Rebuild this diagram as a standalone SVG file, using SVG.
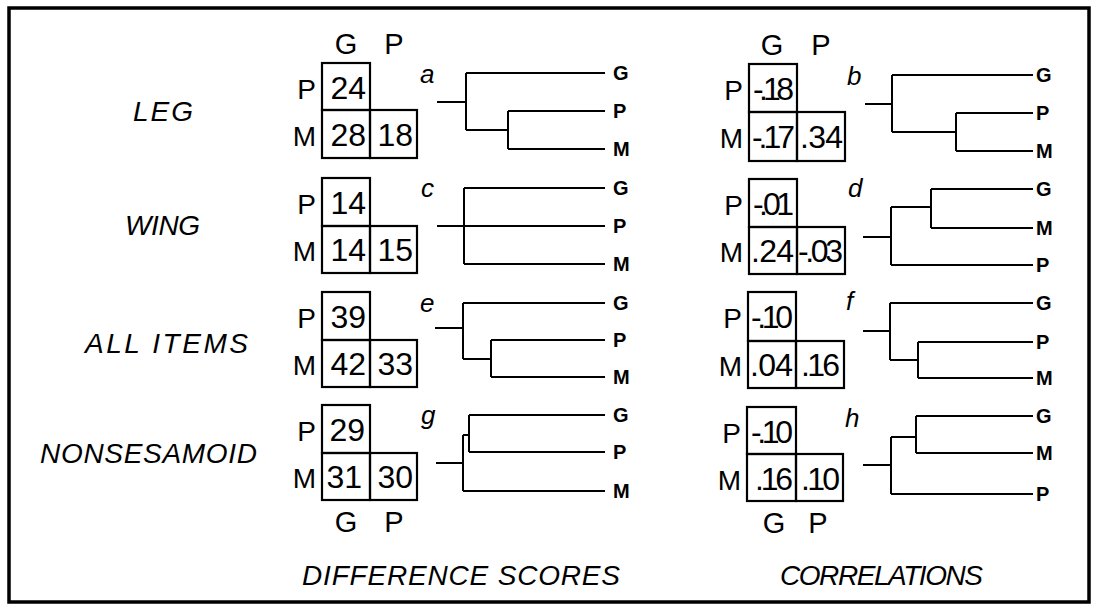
<svg xmlns="http://www.w3.org/2000/svg" width="1096" height="606" viewBox="0 0 1096 606">
<style>
.bg{fill:#fff}
.frame{fill:none;stroke:#000;stroke-width:3.5}
.cell{fill:none;stroke:#000;stroke-width:2.2}
.t{font-family:"Liberation Sans",Arial,sans-serif;fill:#000}
.hd{font-size:29px;text-anchor:middle}
.rl{font-size:28px;text-anchor:end}
.num{font-size:32px;text-anchor:end}
.grp{font-size:28px;font-style:italic;text-anchor:start}
.lt{font-size:26px;font-style:italic}
.leaf{font-size:20px;font-weight:bold}
.ln{fill:none;stroke:#000;stroke-width:2}
</style>
<rect class="bg" x="0" y="0" width="1096" height="606"/>
<rect class="frame" x="9" y="8" width="1080" height="594"/>

<g id="group-labels">
<text class="t grp" x="133" y="121" textLength="60">LEG</text>
<text class="t grp" x="125" y="235" textLength="75">WING</text>
<text class="t grp" x="85" y="353" textLength="163">ALL ITEMS</text>
<text class="t grp" x="40" y="463" textLength="217">NONSESAMOID</text>
<text class="t grp" x="302" y="585" textLength="318">DIFFERENCE SCORES</text>
<text class="t grp" x="780" y="585" textLength="203">CORRELATIONS</text>
</g>

<!-- Left matrices (difference scores) -->
<g id="mat-a">
<text class="t hd" x="346" y="54">G</text><text class="t hd" x="394" y="54">P</text>
<rect class="cell" x="322" y="63" width="48" height="47"/>
<rect class="cell" x="322" y="110" width="48" height="48"/>
<rect class="cell" x="370" y="110" width="47" height="48"/>
<text class="t rl" x="316" y="99">P</text><text class="t rl" x="316" y="146">M</text>
<text class="t num" x="366" y="99">24</text>
<text class="t num" x="366" y="146">28</text>
<text class="t num" x="413" y="146">18</text>
</g>
<g id="mat-c">
<rect class="cell" x="322" y="178" width="48" height="48"/>
<rect class="cell" x="322" y="226" width="48" height="47"/>
<rect class="cell" x="370" y="226" width="47" height="47"/>
<text class="t rl" x="316" y="214">P</text><text class="t rl" x="316" y="261">M</text>
<text class="t num" x="366" y="214">14</text>
<text class="t num" x="366" y="261">14</text>
<text class="t num" x="413" y="261">15</text>
</g>
<g id="mat-e">
<rect class="cell" x="322" y="292" width="48" height="48"/>
<rect class="cell" x="322" y="340" width="48" height="47"/>
<rect class="cell" x="370" y="340" width="47" height="47"/>
<text class="t rl" x="316" y="328">P</text><text class="t rl" x="316" y="375">M</text>
<text class="t num" x="366" y="328">39</text>
<text class="t num" x="366" y="375">42</text>
<text class="t num" x="413" y="375">33</text>
</g>
<g id="mat-g">
<rect class="cell" x="322" y="405" width="48" height="48"/>
<rect class="cell" x="322" y="453" width="48" height="47"/>
<rect class="cell" x="370" y="453" width="47" height="47"/>
<text class="t rl" x="316" y="441">P</text><text class="t rl" x="316" y="488">M</text>
<text class="t num" x="365" y="441">29</text>
<text class="t num" x="362" y="488">31</text>
<text class="t num" x="413" y="488">30</text>
<text class="t hd" x="346" y="532">G</text><text class="t hd" x="394" y="532">P</text>
</g>

<!-- Right matrices (correlations) -->
<g id="mat-b">
<text class="t hd" x="772" y="55">G</text><text class="t hd" x="821" y="55">P</text>
<rect class="cell" x="749" y="64" width="48" height="48"/>
<rect class="cell" x="749" y="112" width="48" height="49"/>
<rect class="cell" x="797" y="112" width="48" height="49"/>
<text class="t rl" x="743" y="100">P</text><text class="t rl" x="743" y="148">M</text>
<text class="t num" x="794" y="100" textLength="41">-.18</text>
<text class="t num" x="795" y="148" textLength="43">-.17</text>
<text class="t num" x="843" y="148" textLength="43">.34</text>
</g>
<g id="mat-d">
<rect class="cell" x="749" y="179" width="48" height="48"/>
<rect class="cell" x="749" y="227" width="48" height="47"/>
<rect class="cell" x="797" y="227" width="48" height="47"/>
<text class="t rl" x="743" y="215">P</text><text class="t rl" x="743" y="262">M</text>
<text class="t num" x="794" y="215" textLength="41">-.01</text>
<text class="t num" x="794" y="262" textLength="43">.24</text>
<text class="t num" x="843" y="262" textLength="45">-.03</text>
</g>
<g id="mat-f">
<rect class="cell" x="748" y="292" width="48" height="49"/>
<rect class="cell" x="748" y="341" width="48" height="47"/>
<rect class="cell" x="796" y="341" width="48" height="47"/>
<text class="t rl" x="742" y="328">P</text><text class="t rl" x="742" y="376">M</text>
<text class="t num" x="793" y="328" textLength="42">-.10</text>
<text class="t num" x="793" y="376" textLength="43">.04</text>
<text class="t num" x="840" y="376" textLength="39">.16</text>
</g>
<g id="mat-h">
<rect class="cell" x="747" y="407" width="49" height="47"/>
<rect class="cell" x="747" y="454" width="49" height="47"/>
<rect class="cell" x="796" y="454" width="47" height="47"/>
<text class="t rl" x="741" y="443">P</text><text class="t rl" x="741" y="490">M</text>
<text class="t num" x="793" y="443" textLength="42">-.10</text>
<text class="t num" x="793" y="490" textLength="38">.16</text>
<text class="t num" x="840" y="490" textLength="39">.10</text>
<text class="t hd" x="774" y="533">G</text><text class="t hd" x="818" y="533">P</text>
</g>

<!-- Dendrograms -->
<g id="connectors">
<path class="ln" d="M437,102H466M466,73V130M466,73H605M466,130H508M508,111V149M508,111H605M508,149H605"/>
<path class="ln" d="M437,226H605M464,188V264M464,188H605M464,264H605"/>
<path class="ln" d="M435,328H463M463,303V359M463,303H605M463,359H491M491,340V377M491,340H605M491,377H605"/>
<path class="ln" d="M436,463H463M463,435V491M463,435H469M469,415V452M469,415H605M469,452H605M463,491H605"/>
<path class="ln" d="M865,104H892M892,75V132M892,75H1033M892,132H956M956,113V151M956,113H1033M956,151H1033"/>
<path class="ln" d="M863,237H891M891,207V265M891,207H931M931,189V228M931,189H1033M931,228H1033M891,265H1033"/>
<path class="ln" d="M863,331H890M890,303V360M890,303H1033M890,360H918M918,342V378M918,342H1033M918,378H1033"/>
<path class="ln" d="M863,465H891M891,437V494M891,437H916M916,416V453M916,416H1033M916,453H1033M891,494H1033"/>
</g>

<g id="dendro-a">
<text class="t lt" x="420" y="83">a</text>
<text class="t leaf" x="613" y="80">G</text><text class="t leaf" x="613" y="118">P</text><text class="t leaf" x="613" y="156">M</text>
</g>
<g id="dendro-c">
<text class="t lt" x="421" y="197">c</text>
<text class="t leaf" x="613" y="195">G</text><text class="t leaf" x="613" y="233">P</text><text class="t leaf" x="613" y="271">M</text>
</g>
<g id="dendro-e">
<text class="t lt" x="420" y="312">e</text>
<text class="t leaf" x="613" y="310">G</text><text class="t leaf" x="613" y="347">P</text><text class="t leaf" x="613" y="384">M</text>
</g>
<g id="dendro-g">
<text class="t lt" x="421" y="424">g</text>
<text class="t leaf" x="613" y="422">G</text><text class="t leaf" x="613" y="459">P</text><text class="t leaf" x="613" y="498">M</text>
</g>
<g id="dendro-b">
<text class="t lt" x="847" y="85">b</text>
<text class="t leaf" x="1036" y="82">G</text><text class="t leaf" x="1036" y="120">P</text><text class="t leaf" x="1036" y="158">M</text>
</g>
<g id="dendro-d">
<text class="t lt" x="848" y="197">d</text>
<text class="t leaf" x="1036" y="196">G</text><text class="t leaf" x="1036" y="235">M</text><text class="t leaf" x="1036" y="272">P</text>
</g>
<g id="dendro-f">
<text class="t lt" x="846" y="310">f</text>
<text class="t leaf" x="1036" y="310">G</text><text class="t leaf" x="1036" y="349">P</text><text class="t leaf" x="1036" y="385">M</text>
</g>
<g id="dendro-h">
<text class="t lt" x="845" y="427">h</text>
<text class="t leaf" x="1036" y="423">G</text><text class="t leaf" x="1036" y="460">M</text><text class="t leaf" x="1036" y="501">P</text>
</g>
</svg>
